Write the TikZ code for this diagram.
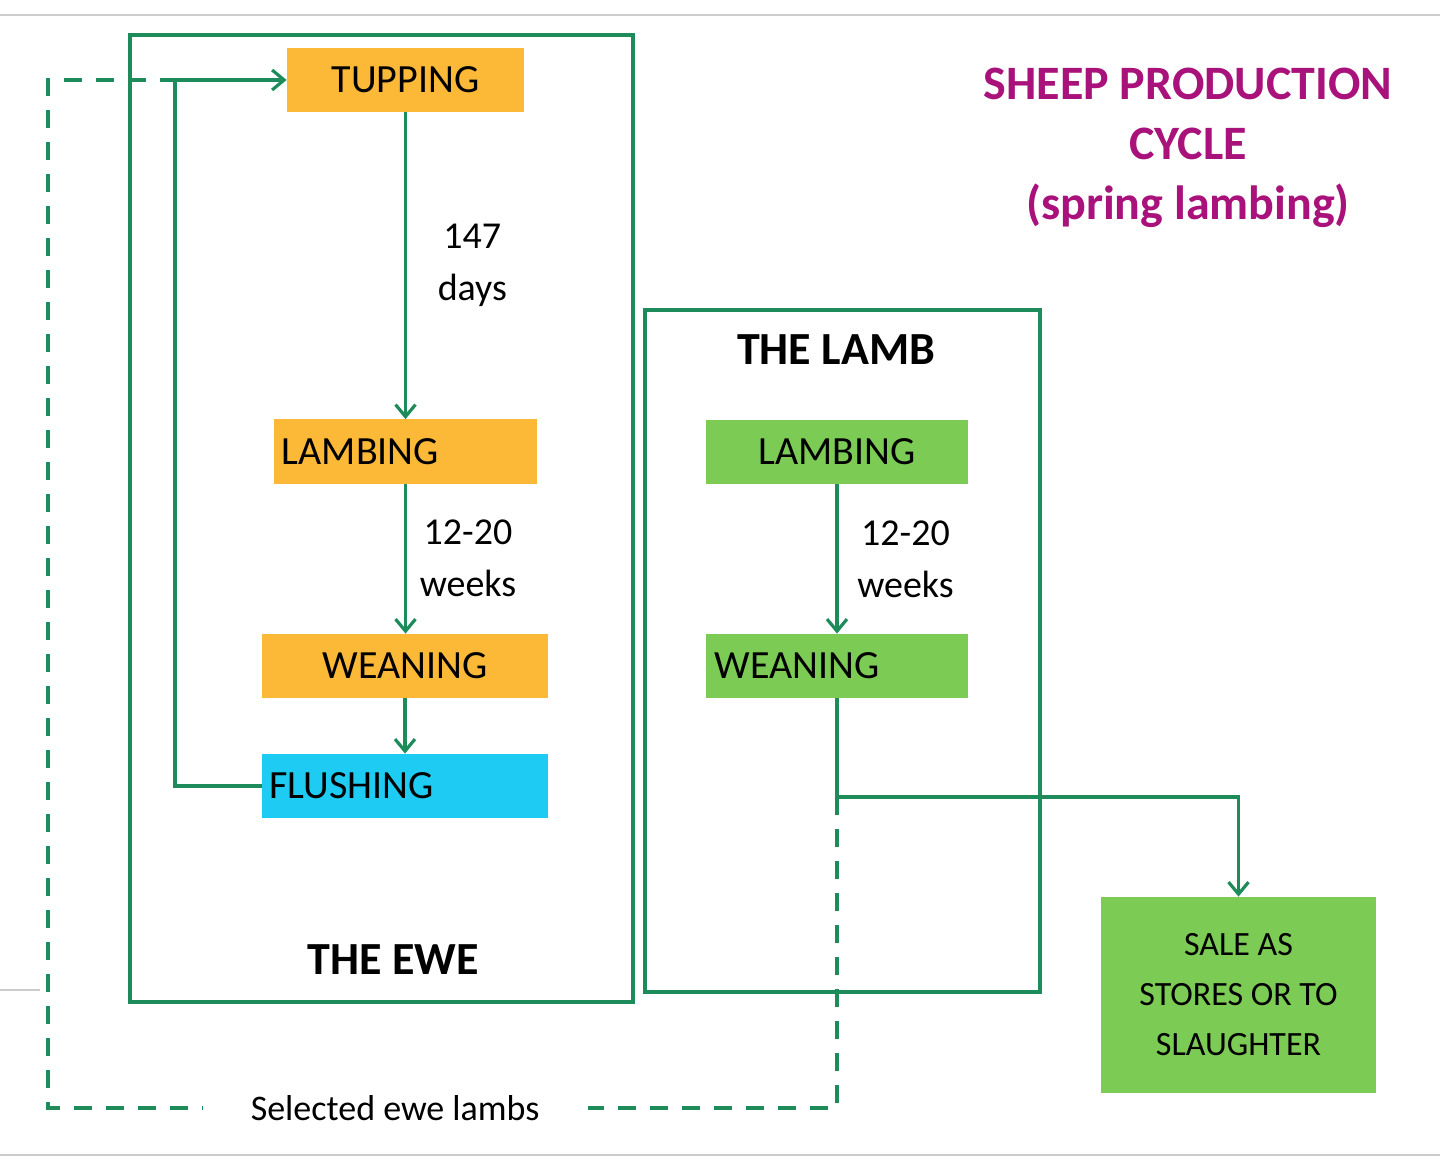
\documentclass[tikz,border=0pt]{standalone}
\usepackage{fontspec}
\setmainfont{Carlito}
\usetikzlibrary{arrows.meta}
\definecolor{lg}{HTML}{1E8C5A}
\definecolor{org}{HTML}{FBB937}
\definecolor{cyn}{HTML}{1ECBF2}
\definecolor{grn}{HTML}{7CCB55}
\definecolor{mag}{HTML}{A8127A}
\tikzset{
 frame/.style={draw=lg,line width=1.6pt},
 stage/.style={minimum height=32pt,inner sep=0pt,font=\fontsize{20}{22}\selectfont},
 conn/.style={draw=lg,line width=1.6pt,-{Straight Barb[length=6pt,width=10pt]}},
 plain/.style={draw=lg,line width=1.6pt},
 dashline/.style={draw=lg,line width=1.6pt,dash pattern=on 9pt off 7pt},
 lbl/.style={align=center,font=\fontsize{19}{26}\selectfont},
}
\begin{document}
\begin{tikzpicture}[x=0.5pt,y=-0.5pt]
\useasboundingbox (0,0) rectangle (1440,1160);
\draw[gray!40,line width=1pt] (0,15) -- (1440,15) (0,1155) -- (1440,1155) (0,990) -- (40,990);
\draw[frame] (130,35) rectangle (633,1002);
\draw[frame] (645,310) rectangle (1040,992);
\node[stage,fill=org,minimum width=118.5pt] (tup) at (405.5,80) {TUPPING};
\node[stage,fill=org,minimum width=131.5pt,text width=124pt,anchor=west] (lam) at (274,451.5) {LAMBING};
\node[stage,fill=org,minimum width=143pt] (wea) at (405,666) {WEANING};
\node[stage,fill=cyn,minimum width=143pt,text width=136pt,anchor=west] (flu) at (262,786) {FLUSHING};
\node[stage,fill=grn,minimum width=131pt] (llam) at (837,452) {LAMBING};
\node[stage,fill=grn,minimum width=131pt,text width=123pt,anchor=west] (lwea) at (706,666) {WEANING};
\node[fill=grn,minimum width=137.5pt,minimum height=98pt,align=center,font=\fontsize{17}{25}\selectfont] (sale) at (1238.5,995) {SALE AS\\STORES OR TO\\SLAUGHTER};
\node[font=\bfseries\fontsize{23}{26}\selectfont] (tl) at (836,350) {THE LAMB};
\node[font=\bfseries\fontsize{23}{26}\selectfont] (te) at (393,960) {THE EWE};
\node[align=center,text=mag,font=\bfseries\fontsize{24}{30}\selectfont] (title) at (1188,148) {SHEEP PRODUCTION\\CYCLE\\(spring lambing)};
\draw[conn] (tup.south) -- (tup.south |- lam.north) node[lbl,midway,right=12pt] {147\\days};
\draw[conn] (lam.south -| tup) -- (wea.north -| tup) node[lbl,midway,right=3pt] {12-20\\weeks};
\draw[conn] (wea) -- (flu.north -| wea);
\draw[conn] (llam) -- (llam |- lwea.north) node[lbl,midway,right=6pt] {12-20\\weeks};
\coordinate (j) at (837,797);
\coordinate (bl) at (837,1108);
\coordinate (br) at (48,1108);
\coordinate (tl2) at (48,80);
\draw[dashline] (j) -- (bl) -- node[fill=white,inner xsep=24pt,font=\fontsize{18}{20}\selectfont,pos=0.56] (sel) {Selected ewe lambs} (br) -- (tl2) -- (tup.west);
\draw[plain] (lwea.south -| llam) -- (j);
\draw[conn] (j) -| (sale.north);
\draw[conn] (flu.west) -- (175,786) -- (175,80) -- (tup.west);
\end{tikzpicture}
\end{document}
